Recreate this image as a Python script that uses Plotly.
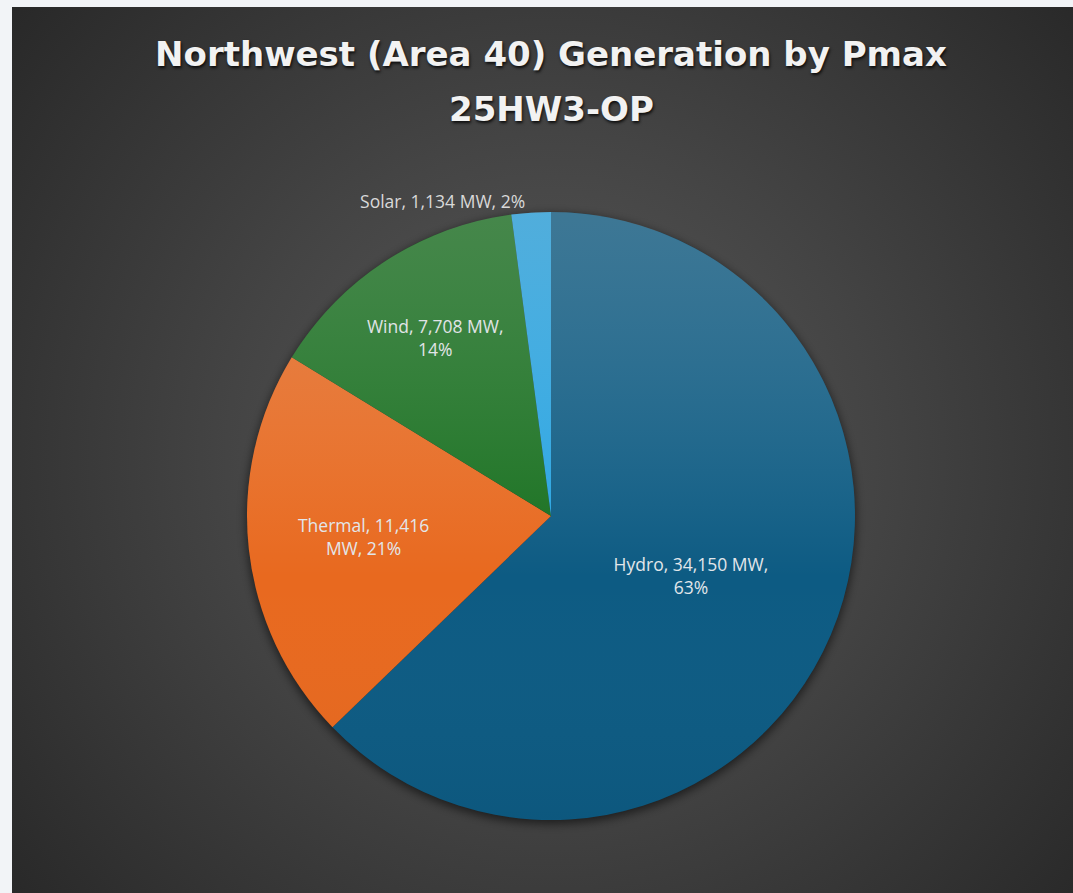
import base64
import plotly.graph_objects as go

# Generation capacity by fuel type (MW), clockwise from 12 o'clock
fuel_types = ["Hydro", "Thermal", "Wind", "Solar"]
capacity_mw = [34150, 11416, 7708, 1134]
slice_colors = ["#0d5b83", "#e8691f", "#18701f", "#27a4e2"]
label_templates = [
    "%{label}, %{value:,} MW,<br>%{percent:.0%}",
    "%{label}, %{value:,}<br>MW, %{percent:.0%}",
    "%{label}, %{value:,} MW,<br>%{percent:.0%}",
    "%{label}, %{value:,} MW, %{percent:.0%}",
]
label_positions = ["inside", "inside", "inside", "outside"]

title_line1 = "Northwest (Area 40) Generation by Pmax"
title_line2 = "25HW3-OP"

W, H = 1073, 893
ML, MT = 12, 7
PW, PH = W - ML, H - MT

# pie placement inside the dark panel (pixels)
cx, cy, R = 551, 516, 304
dom_x = [(cx - R - ML) / PW, (cx + R - ML) / PW]
dom_y = [(H - cy - R) / PH, (H - cy + R) / PH]


def svg_uri(svg):
    return "data:image/svg+xml;base64," + base64.b64encode(svg.encode()).decode()


pcx, pcy = cx - ML, cy - MT

# radial-gradient panel with a soft drop shadow under the pie
bg_svg = f"""<svg xmlns='http://www.w3.org/2000/svg' width='{PW}' height='{PH}' viewBox='0 0 {PW} {PH}' preserveAspectRatio='none'>
<defs>
<radialGradient id='g' gradientUnits='userSpaceOnUse' cx='{pcx}' cy='{pcy - 60}' r='720'>
<stop offset='0' stop-color='#5a5a5a'/>
<stop offset='0.45' stop-color='#444444'/>
<stop offset='1' stop-color='#272727'/>
</radialGradient>
<filter id='b' x='-20%' y='-20%' width='140%' height='140%'><feGaussianBlur stdDeviation='5'/></filter>
</defs>
<rect width='{PW}' height='{PH}' fill='url(#g)'/>
<circle cx='{pcx}' cy='{pcy + 3}' r='{R + 1}' fill='#000' fill-opacity='0.55' filter='url(#b)'/>
</svg>"""

# light sheen over the upper half of the pie
sheen_svg = f"""<svg xmlns='http://www.w3.org/2000/svg' width='{2 * R}' height='{2 * R}' viewBox='0 0 {2 * R} {2 * R}'>
<defs>
<linearGradient id='s' x1='0' y1='0' x2='0' y2='1'>
<stop offset='0' stop-color='#c8c8c8' stop-opacity='0.26'/>
<stop offset='0.6' stop-color='#ffffff' stop-opacity='0.0'/>
<stop offset='1' stop-color='#000000' stop-opacity='0.04'/>
</linearGradient>
</defs>
<circle cx='{R}' cy='{R}' r='{R}' fill='url(#s)'/>
</svg>"""

title_font = dict(family="DejaVu Sans", size=34, color="#f2f2f2", weight="bold",
                  shadow="1px 2px 3px rgba(0,0,0,0.8)")

fig = go.Figure(
    go.Pie(
        labels=fuel_types,
        values=capacity_mw,
        sort=False,
        direction="clockwise",
        rotation=0,
        marker=dict(colors=slice_colors, line=dict(width=0)),
        texttemplate=label_templates,
        textposition=label_positions,
        insidetextorientation="horizontal",
        textfont=dict(family="Open Sans", size=17.5, color="#e2e6ea"),
        outsidetextfont=dict(family="Open Sans", size=17.5, color="#d9d9d9"),
        showlegend=False,
        hoverinfo="label+value+percent",
        domain=dict(x=dom_x, y=dom_y),
    )
)

fig.update_layout(
    width=W,
    height=H,
    margin=dict(l=ML, t=MT, r=0, b=0),
    paper_bgcolor="#f2f4f7",
    title=dict(
        text=title_line1,
        x=551 / W,
        xanchor="center",
        y=1 - 54 / H,
        yanchor="middle",
        font=title_font,
    ),
    annotations=[
        dict(
            text=title_line2,
            xref="paper", yref="paper",
            x=(551 - ML) / PW, y=1 - (109 - MT) / PH,
            xanchor="center", yanchor="middle",
            showarrow=False,
            font=title_font,
        )
    ],
    images=[
        dict(source=svg_uri(bg_svg), xref="paper", yref="paper", x=0, y=1,
             sizex=1, sizey=1, xanchor="left", yanchor="top",
             sizing="stretch", layer="below"),
        dict(source=svg_uri(sheen_svg), xref="paper", yref="paper",
             x=dom_x[0], y=dom_y[1], sizex=dom_x[1] - dom_x[0], sizey=dom_y[1] - dom_y[0],
             xanchor="left", yanchor="top", sizing="stretch", layer="above"),
    ],
)

fig.write_html("out.html")
